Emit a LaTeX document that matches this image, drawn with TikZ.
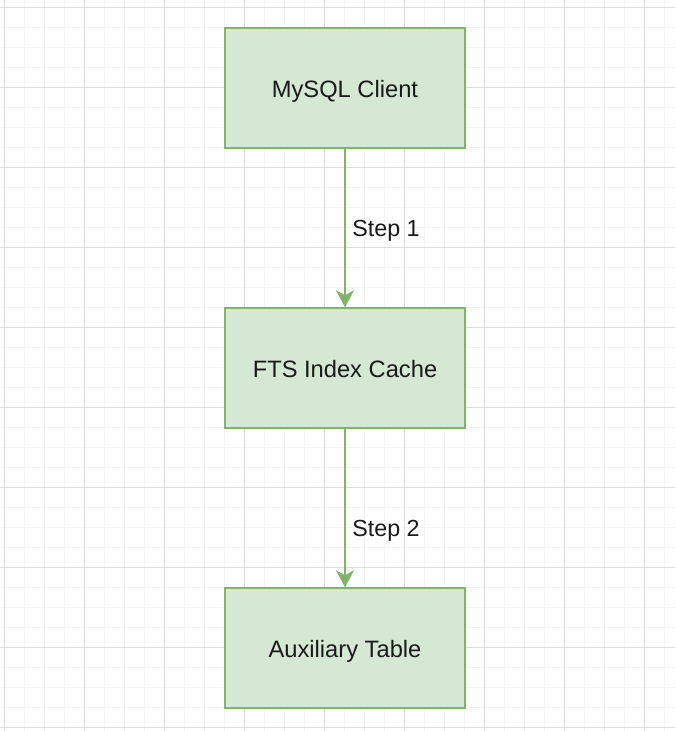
\documentclass[tikz,border=0pt]{standalone}
\usepackage{fontspec}
\setmainfont{Liberation Sans}
\usetikzlibrary{arrows.meta}
\definecolor{boxfill}{HTML}{D5E8D4}
\definecolor{boxline}{HTML}{82B366}
\definecolor{gridminor}{HTML}{F3F3F3}
\definecolor{gridmajor}{HTML}{DDDDDD}
\definecolor{txt}{HTML}{1A1A1A}
\tikzset{
  stagebox/.style={draw=boxline, fill=boxfill, line width=1.4pt, minimum width=240pt, minimum height=120pt, inner sep=0pt, text=txt, text height=18pt, text depth=0pt, font=\fontsize{23.7}{28}\selectfont},
  flow/.style={draw=boxline, line width=1.4pt, -{Stealth[length=17pt,width=18pt,inset=5pt,fill=boxline]}},
  steplabel/.style={inner sep=0pt, text=txt, text height=17pt, text depth=0pt, font=\fontsize{23.3}{28}\selectfont}
}
\begin{document}
\begin{tikzpicture}[x=1pt,y=-1pt]
\useasboundingbox (0,0) rectangle (675,731);
\fill[white] (0,0) rectangle (675,731);
\foreach \i in {0,...,33} {
  \draw[gridminor, line width=1pt] (4+20*\i,0) -- (4+20*\i,731);
}
\foreach \i in {0,...,36} {
  \draw[gridminor, line width=1pt] (0,7+20*\i) -- (675,7+20*\i);
}
\foreach \i in {0,...,8} {
  \draw[gridmajor, line width=1pt] (4+80*\i,0) -- (4+80*\i,731);
}
\foreach \i in {0,...,9} {
  \draw[gridmajor, line width=1pt] (0,7+80*\i) -- (675,7+80*\i);
}
\node[stagebox] (client) at (345,88) {MySQL Client};
\node[stagebox] (cache) at (345,368) {FTS Index Cache};
\node[stagebox] (aux) at (345,648) {Auxiliary Table};
\draw[flow] (client) -- (cache);
\draw[flow] (cache) -- (aux);
\node[steplabel] (s1) at (386,228) {Step 1};
\node[steplabel] (s2) at (386,528) {Step 2};
\end{tikzpicture}
\end{document}
